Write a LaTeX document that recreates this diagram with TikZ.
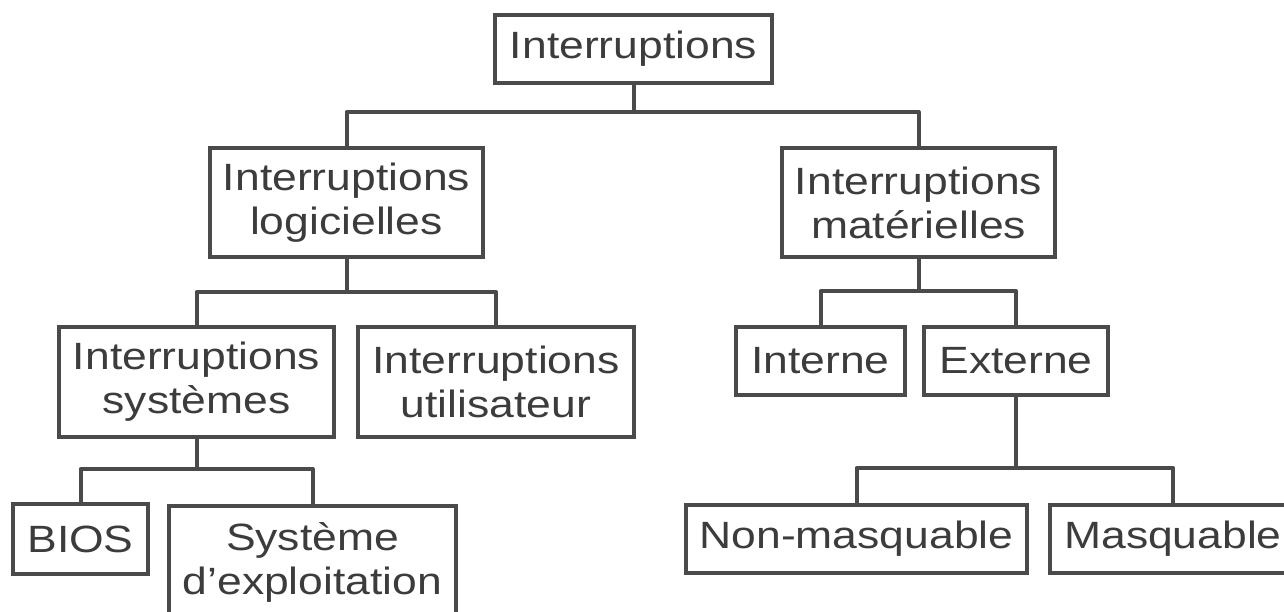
\documentclass[tikz,border=0pt]{standalone}
\usepackage{fontspec}
\setmainfont[FakeStretch=1.17]{Liberation Sans}
\definecolor{linec}{HTML}{4A4A4A}
\definecolor{textc}{HTML}{3C3C3C}
\begin{document}
\begin{tikzpicture}[x=0.75pt,y=-0.75pt,
  box/.style={draw=linec,line width=3pt,fill=white,inner sep=0pt,align=center,
    text=textc,font=\fontsize{28.5pt}{33pt}\selectfont},
  link/.style={draw=linec,line width=3pt,line join=round}]
\clip (0,0) rectangle (1284,611);
\fill[white] (0,0) rectangle (1284,611);
% nodes
\node[box,minimum width=207.75pt,minimum height=51pt] (top) at (633.5,49) {Interruptions};
\node[box,minimum width=204.75pt,minimum height=81.75pt] (log) at (346.5,202.5) {Interruptions\\logicielles};
\node[box,minimum width=204.75pt,minimum height=81.75pt] (mat) at (918.5,202.5) {Interruptions\\matérielles};
\node[box,minimum width=206.25pt,minimum height=82.5pt] (sys) at (196.5,382) {Interruptions\\systèmes};
\node[box,minimum width=207pt,minimum height=82.5pt] (usr) at (496,382) {Interruptions\\utilisateur};
\node[box,minimum width=126.75pt,minimum height=51pt] (int) at (820.5,361) {Interne};
\node[box,minimum width=138pt,minimum height=51pt] (ext) at (1016,361) {Externe};
\node[box,minimum width=101.25pt,minimum height=52.5pt] (bios) at (80.5,539) {BIOS};
\node[box,minimum width=215.25pt,minimum height=84pt] (os) at (312.5,562) {Système\\d’exploitation};
\node[box,minimum width=255.75pt,minimum height=51pt] (nm) at (856.5,539) {Non-masquable};
\node[box,minimum width=184.5pt,minimum height=51pt] (mq) at (1173,539) {Masquable};
% bus coordinates
\coordinate (b1) at (633.5,112);
\coordinate (b2) at (346.5,292);
\coordinate (b3) at (918.5,291);
\coordinate (b4) at (196.5,469);
\coordinate (b5) at (1016,468);
% connectors
\draw[link] (top.south) -- (b1) -| (log.north);
\draw[link] (b1) -| (mat.north);
\draw[link] (log.south) -- (b2) -| (sys.north);
\draw[link] (b2) -| (usr.north);
\draw[link] (mat.south) -- (b3) -| (int.north);
\draw[link] (b3) -| (ext.north);
\draw[link] (sys.south) -- (b4) -| (bios.north);
\draw[link] (b4) -| (os.north);
\draw[link] (ext.south) -- (b5) -| (nm.north);
\draw[link] (b5) -| (mq.north);
\end{tikzpicture}
\end{document}
